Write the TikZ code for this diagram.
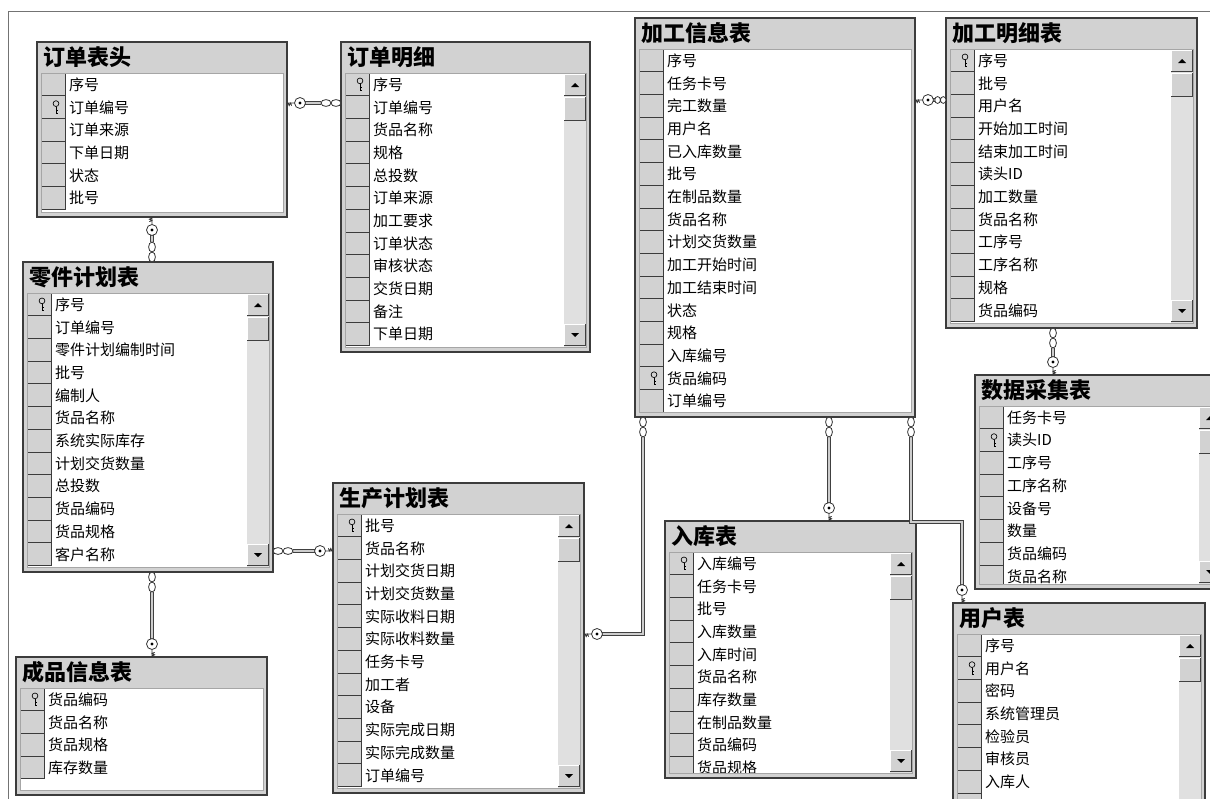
\documentclass[tikz,border=0pt]{standalone}
\usepackage{fontspec}
\setmainfont{Noto Sans CJK SC}
\definecolor{panelgray}{RGB}{210,210,210}
\definecolor{framedark}{RGB}{60,60,60}
\definecolor{trackgray}{RGB}{224,224,224}
\definecolor{conninner}{RGB}{205,205,205}
\tikzset{
 tablebox/.style={draw=framedark, line width=1.5pt, fill=panelgray, rectangle, inner sep=0pt, outer sep=0pt, anchor=north west},
 keycell/.style={fill=panelgray, draw=framedark, line width=0.8pt},
 rowtext/.style={anchor=west, inner sep=0pt, font=\fontsize{15}{15}\selectfont, text=black},
 titletext/.style={anchor=west, inner sep=0pt, font=\fontsize{22}{22}\selectfont\bfseries, text=black},
 conn/.style={draw=black!75, line width=0.8pt, double=conninner, double distance=2.6pt},
 symline/.style={draw=black!80, line width=0.8pt},
 frameline/.style={draw=black!55, line width=0.8pt}
}
\newcommand{\keyicon}[2]{%
 \begin{scope}[shift={(#1,#2)}]
  \draw[black, line width=0.65pt] (0,-3.4) circle[radius=2.9];
  \draw[black, line width=0.65pt] (0,-0.5) -- (0,6.5) (0,3.4) -- (2.4,3.4) (0,6) -- (2.4,6);
 \end{scope}}
\newcommand{\sbbtn}[3]{%
 \fill[panelgray] (#1,#2) rectangle (#1+22,#3);
 \draw[white, line width=0.8pt] (#1+0.5,#3) -- (#1+0.5,#2+0.5) -- (#1+22,#2+0.5);
 \draw[black!75, line width=0.8pt] (#1,#3-0.5) -- (#1+21.5,#3-0.5) -- (#1+21.5,#2);}
\newcommand{\scrollbar}[3]{%
 \fill[trackgray] (#1,#2) rectangle (#1+22,#3);
 \sbbtn{#1}{#2+1}{#2+23}
 \fill[black] (#1+7,#2+14) -- (#1+15,#2+14) -- (#1+11,#2+10) -- cycle;
 \sbbtn{#1}{#2+24}{#2+48}
 \sbbtn{#1}{#3-23}{#3-1}
 \fill[black] (#1+7,#3-14) -- (#1+15,#3-14) -- (#1+11,#3-10) -- cycle;}
% name, x, y, w, h, title, rows, keyrow, scroll
\newcommand{\dbtable}[9]{%
 \node[tablebox, minimum width=#4pt, minimum height=#5pt] (#1) at (#2,#3) {};
 \node[titletext] at (#2+6,#3+15.5) {#6};
 \begin{scope}
  \clip (#2+4,#3+31) rectangle (#2+#4-4,#3+#5-5);
  \fill[white] (#2+4,#3+31) rectangle (#2+#4-4,#3+#5-5);
  \foreach \rname [count=\ri] in {#7} {
    \pgfmathsetmacro{\ry}{#3+31+(\ri-1)*22.7}
    \draw[keycell] (#2+4,\ry) rectangle (#2+28,\ry+22.7);
    \node[rowtext] at (#2+32,\ry+11.6) {\rname};
    \ifnum\ri=#8\relax \keyicon{#2+19}{\ry+11.3}\fi
  }
  \ifnum#9=1\relax \scrollbar{#2+#4-26}{#3+31}{#3+#5-5}\fi
 \end{scope}
 \draw[black!35, line width=0.6pt] (#2+4,#3+31) rectangle (#2+#4-4,#3+#5-5);
}
\newcommand{\keyend}[2]{%
 \begin{scope}[shift={(#1)}, rotate=#2]
  \draw[symline] (0,0) -- (7.5,0) (1,0) -- (2.2,2.6) -- (3.4,0) -- (4.6,2.6);
  \draw[symline, fill=white] (13,0) circle[radius=5.5];
  \fill[black] (13,0) circle[radius=1.6];
 \end{scope}}
\newcommand{\manyend}[3][5]{%
 \begin{scope}[shift={(#2)}, rotate=#3]
  \draw[symline, fill=white] (#1,0) ellipse[x radius=#1, y radius=3.4] (3*#1,0) ellipse[x radius=#1, y radius=3.4];
 \end{scope}}
\begin{document}
\begin{tikzpicture}[x=1pt, y=-1pt]
\useasboundingbox (0,0) rectangle (1210,798);
\clip (0,0) rectangle (1210,798);
\fill[white] (0,0) rectangle (1210,798);
\draw[frameline] (8,800) -- (8,11) -- (1212,11);

\dbtable{t1}{37}{42}{250}{175}{订单表头}{序号,订单编号,订单来源,下单日期,状态,批号}{2}{0}
\dbtable{t2}{341}{42}{249}{310}{订单明细}{序号,订单编号,货品名称,规格,总投数,订单来源,加工要求,订单状态,审核状态,交货日期,备注,下单日期}{1}{1}
\dbtable{t3}{635}{18}{280}{399}{加工信息表}{序号,任务卡号,完工数量,用户名,已入库数量,批号,在制品数量,货品名称,计划交货数量,加工开始时间,加工结束时间,状态,规格,入库编号,货品编码,订单编号}{15}{0}
\dbtable{t4}{946}{18}{251}{310}{加工明细表}{序号,批号,用户名,开始加工时间,结束加工时间,读头ID,加工数量,货品名称,工序号,工序名称,规格,货品编码}{1}{1}
\dbtable{t5}{23}{262}{250}{310}{零件计划表}{序号,订单编号,零件计划编制时间,批号,编制人,货品名称,系统实际库存,计划交货数量,总投数,货品编码,货品规格,客户名称}{1}{1}
\dbtable{t6}{16}{657}{251}{138}{成品信息表}{货品编码,货品名称,货品规格,库存数量}{1}{0}
\dbtable{t7}{333}{483}{251}{310}{生产计划表}{批号,货品名称,计划交货日期,计划交货数量,实际收料日期,实际收料数量,任务卡号,加工者,设备,实际完成日期,实际完成数量,订单编号}{1}{1}
\dbtable{t8}{665}{521}{251}{257}{入库表}{入库编号,任务卡号,批号,入库数量,入库时间,货品名称,库存数量,在制品数量,货品编码,货品规格}{1}{1}
\dbtable{t9}{975}{375}{250}{214}{数据采集表}{任务卡号,读头ID,工序号,工序名称,设备号,数量,货品编码,货品名称}{2}{1}
\dbtable{t10}{953}{603}{252}{235}{用户表}{序号,用户名,密码,系统管理员,检验员,审核员,入库人,{}}{2}{1}

% helper levels
\coordinate (h1) at (0,103);
\coordinate (v1) at (152,0);
\coordinate (h3) at (0,551);
\coordinate (h5) at (0,634);
\coordinate (v5) at (643,0);
\coordinate (h6) at (0,100);
\coordinate (v7) at (1053,0);
\coordinate (v8) at (829,0);
\coordinate (v9) at (911,0);
\coordinate (b9) at (962,522);

% connectors
\draw[conn, shorten <=8pt, shorten >=20pt] (t1.east |- h1) -- (t2.west |- h1);
\draw[conn, shorten <=8pt, shorten >=20pt] (t1.south -| v1) -- (t5.north -| v1);
\draw[conn, shorten <=20pt, shorten >=8pt] (t5.east |- h3) -- (t7.west |- h3);
\draw[conn, shorten <=20pt, shorten >=8pt] (t5.south -| v1) -- (t6.north -| v1);
\draw[conn, shorten <=8pt, shorten >=20pt] (t7.east |- h5) -| (t3.south -| v5);
\draw[conn, shorten <=8pt, shorten >=11pt] (t3.east |- h6) -- (t4.west |- h6);
\draw[conn, shorten <=20pt, shorten >=8pt] (t4.south -| v7) -- (t9.north -| v7);
\draw[conn, shorten <=20pt, shorten >=8pt] (t3.south -| v8) -- (t8.north -| v8);
\draw[conn, shorten <=20pt, shorten >=8pt] (t3.south -| v9) |- (b9) -- (t10.north -| b9);

% end symbols
\keyend{t1.east |- h1}{0}      \manyend{t2.west |- h1}{180}
\keyend{t1.south -| v1}{-90}   \manyend{t5.north -| v1}{90}
\manyend{t5.east |- h3}{0}     \keyend{t7.west |- h3}{180}
\manyend{t5.south -| v1}{-90}  \keyend{t6.north -| v1}{90}
\keyend{t7.east |- h5}{0}      \manyend{t3.south -| v5}{-90}
\keyend{t3.east |- h6}{0}      \manyend[2.8]{t4.west |- h6}{180}
\manyend{t4.south -| v7}{-90}  \keyend{t9.north -| v7}{90}
\manyend{t3.south -| v8}{-90}  \keyend{t8.north -| v8}{90}
\manyend{t3.south -| v9}{-90}  \keyend{t10.north -| b9}{90}
\end{tikzpicture}
\end{document}
